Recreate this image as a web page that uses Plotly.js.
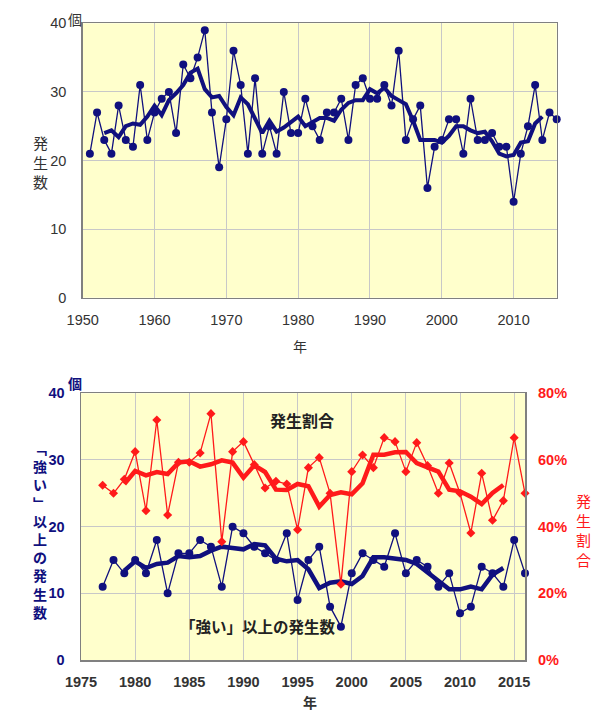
<!DOCTYPE html>
<html>
<head>
<meta charset="utf-8">
<script src="https://cdn.plot.ly/plotly-3.0.1.min.js"></script>
<style>html,body{margin:0;padding:0;background:#fff;}#chart{width:592px;height:713px;}</style>
</head>
<body>
<div id="chart"></div>
<script>
// ---- Top chart: annual typhoon counts ----
const yearsAll = [1951,1952,1953,1954,1955,1956,1957,1958,1959,1960,1961,1962,1963,1964,1965,1966,1967,1968,1969,1970,1971,1972,1973,1974,1975,1976,1977,1978,1979,1980,1981,1982,1983,1984,1985,1986,1987,1988,1989,1990,1991,1992,1993,1994,1995,1996,1997,1998,1999,2000,2001,2002,2003,2004,2005,2006,2007,2008,2009,2010,2011,2012,2013,2014,2015,2016];
const countAll = [21,27,23,21,28,23,22,31,23,27,29,30,24,34,32,35,39,27,19,26,36,31,21,32,21,25,21,30,24,24,29,25,23,27,27,29,23,31,32,29,29,31,28,36,23,26,28,16,22,23,26,26,21,29,23,23,24,22,22,14,21,25,31,23,27,26];
const maYearsAll = [1953,1954,1955,1956,1957,1958,1959,1960,1961,1962,1963,1964,1965,1966,1967,1968,1969,1970,1971,1972,1973,1974,1975,1976,1977,1978,1979,1980,1981,1982,1983,1984,1985,1986,1987,1988,1989,1990,1991,1992,1993,1994,1995,1996,1997,1998,1999,2000,2001,2002,2003,2004,2005,2006,2007,2008,2009,2010,2011,2012,2013,2014];
const maCountAll = [24.0,24.4,23.4,25.0,25.4,25.2,26.4,28.0,26.6,28.8,29.8,31.0,32.8,33.4,30.4,29.2,29.4,27.8,26.6,29.2,28.2,26.0,24.0,25.8,24.2,24.8,25.6,26.4,25.0,25.6,26.2,26.2,25.8,27.4,28.4,28.8,28.8,30.4,29.8,30.6,29.4,28.8,28.2,25.8,23.0,23.0,23.0,22.6,23.6,25.0,25.0,24.4,24.0,24.2,22.8,21.0,20.6,20.8,22.6,22.8,25.4,26.4];

// ---- Bottom chart: "strong" or stronger typhoons and their ratio ----
const yearsStrong = [1977,1978,1979,1980,1981,1982,1983,1984,1985,1986,1987,1988,1989,1990,1991,1992,1993,1994,1995,1996,1997,1998,1999,2000,2001,2002,2003,2004,2005,2006,2007,2008,2009,2010,2011,2012,2013,2014,2015,2016];
const countStrong = [11,15,13,15,13,18,10,16,16,18,17,11,20,19,17,16,15,19,9,15,17,8,5,13,16,15,14,19,13,15,14,11,13,7,8,14,13,11,18,13];
const ratioStrong = [52.4,50.0,54.2,62.5,44.8,72.0,43.5,59.3,59.3,62.1,73.9,35.5,62.5,65.5,58.6,51.6,53.6,52.8,39.1,57.7,60.7,50.0,22.7,56.5,61.5,57.7,66.7,65.5,56.5,65.2,58.3,50.0,59.1,50.0,38.1,56.0,41.9,47.8,66.7,50.0];
const maYearsStrong = [1979,1980,1981,1982,1983,1984,1985,1986,1987,1988,1989,1990,1991,1992,1993,1994,1995,1996,1997,1998,1999,2000,2001,2002,2003,2004,2005,2006,2007,2008,2009,2010,2011,2012,2013,2014];
const maCountStrong = [13.4,14.8,13.8,14.4,14.6,15.6,15.4,15.6,16.4,17.0,16.8,16.6,17.4,17.2,15.2,14.8,15.0,13.6,10.8,11.6,11.8,11.4,12.6,15.4,15.4,15.2,15.0,14.4,13.2,12.0,10.6,10.6,11.0,10.6,12.8,13.8];
const maRatioStrong = [52.8,56.7,55.4,56.4,55.8,59.2,59.6,58.0,58.7,59.9,59.2,54.7,58.4,56.4,51.1,51.0,52.8,52.1,46.0,49.5,50.3,49.7,53.0,61.6,61.6,62.3,62.4,59.1,57.8,56.5,51.1,50.6,49.0,46.8,50.1,52.5];

const W = 592, H = 713;
const px = x => x / W;
const py = y => 1 - y / H;

const NAVY = '#10107e';
const RED = '#ff1a1a';
const FONT = 'Liberation Sans, Arial, Noto Sans CJK JP, sans-serif';

const traces = [
  {x: yearsAll, y: countAll, xaxis: 'x', yaxis: 'y', type: 'scatter', mode: 'lines+markers',
   line: {color: NAVY, width: 1.3}, marker: {color: NAVY, size: 8, symbol: 'circle'}, cliponaxis: false, showlegend: false},
  {x: maYearsAll, y: maCountAll, xaxis: 'x', yaxis: 'y', type: 'scatter', mode: 'lines',
   line: {color: NAVY, width: 4}, showlegend: false},

  {x: yearsStrong, y: ratioStrong, xaxis: 'x2', yaxis: 'y3', type: 'scatter', mode: 'lines+markers',
   line: {color: RED, width: 1.3}, marker: {color: RED, size: 7, symbol: 'diamond'}, cliponaxis: false, showlegend: false},
  {x: maYearsStrong, y: maRatioStrong, xaxis: 'x2', yaxis: 'y3', type: 'scatter', mode: 'lines',
   line: {color: RED, width: 4.5}, showlegend: false},
  {x: yearsStrong, y: countStrong, xaxis: 'x2', yaxis: 'y2', type: 'scatter', mode: 'lines+markers',
   line: {color: NAVY, width: 1.3}, marker: {color: NAVY, size: 8, symbol: 'circle'}, cliponaxis: false, showlegend: false},
  {x: maYearsStrong, y: maCountStrong, xaxis: 'x2', yaxis: 'y2', type: 'scatter', mode: 'lines',
   line: {color: NAVY, width: 4.5}, showlegend: false}
];

const gridC = '#c8c8c8';
const lineC = '#808080';

const layout = {
  width: W, height: H,
  margin: {l: 0, r: 0, t: 0, b: 0},
  paper_bgcolor: '#ffffff',
  plot_bgcolor: '#ffffcc',
  showlegend: false,
  font: {family: FONT, color: '#333'},
  xaxis: {domain: [px(82.7), px(556.7)], anchor: 'y', range: [1950, 2016], tick0: 1950, dtick: 10,
    showgrid: true, gridcolor: gridC, gridwidth: 1, zeroline: false, showline: true, linecolor: lineC, linewidth: 1.5, mirror: true,
    ticks: '', ticklabelstandoff: 8, tickfont: {size: 14.5, color: '#333', family: FONT}},
  yaxis: {domain: [py(297.7), py(23.3)], anchor: 'x', range: [0, 40], dtick: 10,
    showgrid: true, gridcolor: gridC, gridwidth: 1, zeroline: false, showline: true, linecolor: lineC, linewidth: 1.5, mirror: true,
    ticks: '', ticklabelstandoff: 12, tickfont: {size: 14.5, color: '#333', family: FONT}},
  xaxis2: {domain: [px(81), px(525)], anchor: 'y2', range: [1975, 2016], tick0: 1975, dtick: 5,
    showgrid: true, gridcolor: gridC, gridwidth: 1, zeroline: false, showline: true, linecolor: lineC, linewidth: 1.5, mirror: true,
    ticks: '', ticklabelstandoff: 8, tickfont: {size: 14.5, color: '#333', family: FONT, weight: 'bold'}},
  yaxis2: {domain: [py(660), py(393.3)], anchor: 'x2', range: [0, 40], dtick: 10,
    showgrid: true, gridcolor: gridC, gridwidth: 1, zeroline: false, showline: true, linecolor: lineC, linewidth: 1.5, mirror: true,
    ticks: '', ticklabelstandoff: 12, tickfont: {size: 14.5, color: NAVY, family: FONT, weight: 'bold'}},
  yaxis3: {overlaying: 'y2', anchor: 'x2', side: 'right', range: [0, 80], dtick: 20, ticksuffix: '%',
    showgrid: false, zeroline: false, showline: false,
    ticks: '', ticklabelstandoff: 12, tickfont: {size: 14.5, color: RED, family: FONT, weight: 'bold'}},
  annotations: [
    {text: '個', xref: 'paper', yref: 'paper', x: px(75), y: py(20), showarrow: false, xanchor: 'center', yanchor: 'middle',
     font: {size: 14, color: '#333', family: FONT}},
    {text: '発<br>生<br>数', xref: 'paper', yref: 'paper', x: px(40), y: py(163), showarrow: false, xanchor: 'center', yanchor: 'middle',
     font: {size: 15, color: '#333', family: FONT}},
    {text: '年', xref: 'paper', yref: 'paper', x: px(300), y: py(347), showarrow: false, xanchor: 'center', yanchor: 'middle',
     font: {size: 14, color: '#333', family: FONT}},

    {text: '個', xref: 'paper', yref: 'paper', x: px(75), y: py(384), showarrow: false, xanchor: 'center', yanchor: 'middle',
     font: {size: 14, color: NAVY, family: FONT, weight: 'bold'}},
    {text: '﹁<br>強<br>い<br>﹂<br>以<br>上<br>の<br>発<br>生<br>数', xref: 'paper', yref: 'paper', x: px(40), y: py(531), showarrow: false,
     xanchor: 'center', yanchor: 'middle', font: {size: 14, color: NAVY, family: FONT, weight: 'bold'}},
    {text: '発<br>生<br>割<br>合', xref: 'paper', yref: 'paper', x: px(583), y: py(531), showarrow: false, xanchor: 'center', yanchor: 'middle',
     font: {size: 15, color: RED, family: FONT}},
    {text: '年', xref: 'paper', yref: 'paper', x: px(310), y: py(703), showarrow: false, xanchor: 'center', yanchor: 'middle',
     borderpad: 0, font: {size: 14, color: '#333', family: FONT, weight: 'bold'}},
    {text: '発生割合', xref: 'paper', yref: 'paper', x: px(302), y: py(421), showarrow: false, xanchor: 'center', yanchor: 'middle',
     font: {size: 16, color: '#222', family: FONT, weight: 'bold'}},
    {text: '「強い」以上の発生数', xref: 'paper', yref: 'paper', x: px(258), y: py(627), showarrow: false, xanchor: 'center', yanchor: 'middle',
     font: {size: 15.5, color: '#222', family: FONT, weight: 'bold'}}
  ]
};

Plotly.newPlot('chart', traces, layout, {staticPlot: true, displayModeBar: false});
</script>
</body>
</html>
